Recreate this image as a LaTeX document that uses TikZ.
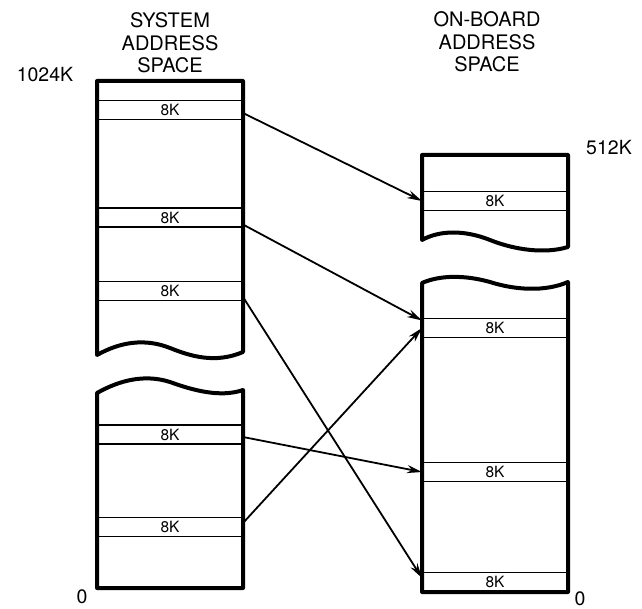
\documentclass[tikz,border=0pt]{standalone}
\usepackage{fontspec}
\setmainfont{TeX Gyre Heros}
\usetikzlibrary{arrows.meta}

\begin{document}
\begin{tikzpicture}[x=1pt, y=-1pt,
    outline/.style={line width=4pt, line join=round},
    slot/.style={rectangle, draw, line width=1.8pt, minimum width=146pt,
        minimum height=19pt, inner sep=0pt, outer sep=0pt,
        font=\fontsize{15.5}{17}\selectfont},
    title/.style={align=center, font=\fontsize{20}{22.5}\selectfont},
    addr/.style={inner sep=0pt, font=\fontsize{19.5}{21}\selectfont},
    map/.style={-{Stealth[length=15pt,width=8pt]}, line width=1.8pt}
]
\fill[white] (0,0) rectangle (642,609);
\useasboundingbox (0,0) rectangle (642,609);

% headings and address marks
\node[title] (systitle) at (170,43) {SYSTEM\\ADDRESS\\SPACE};
\node[title] (obtitle) at (487,42) {ON-BOARD\\ADDRESS\\SPACE};
\node[addr] (top1024) at (45,75) {1024K};
\node[addr] (top512) at (609,148) {512K};
\node[addr] (zeroL) at (82,597) {0};
\node[addr] (zeroR) at (580,599) {0};

% system address space, two pieces
\draw[outline] (97,355) -- (97,81) -- (243,81) -- (243,352)
    .. controls (215,364) and (190,356) .. (170,348)
    .. controls (145,338) and (120,342) .. (97,355) -- cycle;
\draw[outline] (97,393) .. controls (120,380) and (145,374) .. (170,382)
    .. controls (192,390) and (220,398) .. (243,390)
    -- (243,588) -- (97,588) -- cycle;

% on-board address space, two pieces
\draw[outline] (422,240) -- (422,155) -- (568,155) -- (568,247)
    .. controls (545,254) and (515,250) .. (490,240)
    .. controls (465,230) and (440,230) .. (422,240) -- cycle;
\draw[outline] (422,283) .. controls (440,275) and (465,275) .. (490,282)
    .. controls (515,290) and (545,292) .. (568,282)
    -- (568,592) -- (422,592) -- cycle;

% 8K windows
\node[slot] (ls1) at (170,110) {8K};
\node[slot] (ls2) at (170,217.5) {8K};
\node[slot] (ls3) at (170,291) {8K};
\node[slot] (lb1) at (170,434.5) {8K};
\node[slot] (lb2) at (170,527) {8K};
\node[slot] (ru1) at (495,201) {8K};
\node[slot] (rl1) at (495,328) {8K};
\node[slot] (rl2) at (495,472) {8K};
\node[slot] (rl3) at (495,582) {8K};

% mapping
\draw[map] ([yshift=-3pt]ls1.east) -- (ru1.west);
\draw[map] ([yshift=-7pt]ls2.east) -- ([yshift=-2pt]rl1.north west);
\draw[map] ([yshift=-6pt]ls3.east) -- ([yshift=4pt]rl3.west);
\draw[map] ([yshift=-2.5pt]lb1.east) -- (rl2.west);
\draw[map] ([yshift=4pt]lb2.east) -- (rl1.west);

\end{tikzpicture}
\end{document}
